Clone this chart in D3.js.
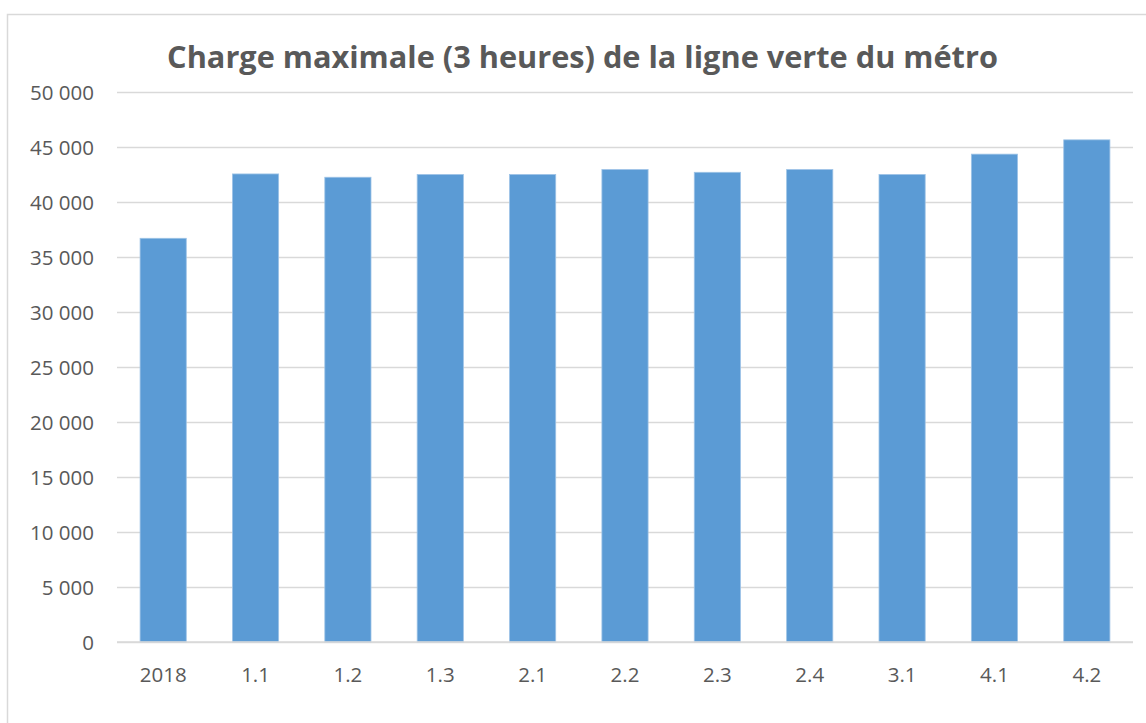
<!DOCTYPE html>
<html>
<head>
<meta charset="utf-8">
<script src="https://cdn.jsdelivr.net/npm/d3@7"></script>
<style>
  html, body { margin: 0; padding: 0; background: #fff; }
  svg { display: block; }
</style>
</head>
<body>
<svg id="chart" width="1146" height="723"></svg>
<script>
// Scenarios and peak 3-hour load values
const categories = ["2018", "1.1", "1.2", "1.3", "2.1", "2.2", "2.3", "2.4", "3.1", "4.1", "4.2"];
const values = [36700, 42550, 42250, 42500, 42500, 42950, 42700, 42950, 42500, 44350, 45650];
const yTicks = [0, 5000, 10000, 15000, 20000, 25000, 30000, 35000, 40000, 45000, 50000];
const title = "Charge maximale (3 heures) de la ligne verte du métro";

const W = 1146, H = 723;
const plot = { left: 117, right: 1133, top: 92, bottom: 642 };
const font = "'Open Sans', 'Noto Sans', sans-serif";
const textColor = "#595959";
const gridColor = "#D9D9D9";
const barColor = "#5B9BD5";
const tickFont = "20.5px";

const svg = d3.select("#chart");

// Chart area frame
svg.append("rect")
  .attr("x", 7.5).attr("y", 14.5)
  .attr("width", W + 20).attr("height", H + 20)
  .attr("fill", "#fff")
  .attr("stroke", gridColor).attr("stroke-width", 1.5);

const x = d3.scaleBand()
  .domain(categories)
  .range([plot.left, plot.right])
  .paddingInner(0.5)
  .paddingOuter(0.25);

const y = d3.scaleLinear()
  .domain([0, 50000])
  .range([plot.bottom, plot.top]);

const fmt = d => d3.format(",")(d).replace(/,/g, " ");

// Horizontal gridlines and y labels
const yAxis = d3.axisLeft(y)
  .tickValues(yTicks)
  .tickFormat(fmt)
  .tickSize(-(plot.right - plot.left))
  .tickPadding(23);

const gy = svg.append("g")
  .attr("transform", `translate(${plot.left},0)`)
  .call(yAxis);
gy.select(".domain").remove();
gy.selectAll(".tick line")
  .attr("stroke", gridColor).attr("stroke-width", 1.5);
gy.selectAll(".tick text")
  .attr("fill", textColor)
  .style("font-family", font)
  .style("font-size", tickFont)
  .attr("dy", "0.36em");

// Bars
svg.append("g")
  .selectAll("rect")
  .data(categories.map((c, i) => ({ c, v: values[i] })))
  .join("rect")
  .attr("x", d => x(d.c))
  .attr("y", d => y(d.v))
  .attr("width", x.bandwidth())
  .attr("height", d => y(0) - y(d.v))
  .attr("fill", barColor)
  .attr("stroke", "#9DC3E6")
  .attr("stroke-width", 0.8);

// Category axis
const xAxis = d3.axisBottom(x).tickSize(0).tickPadding(25);
const gx = svg.append("g")
  .attr("transform", `translate(0,${plot.bottom})`)
  .call(xAxis);
gx.select(".domain")
  .attr("stroke", gridColor).attr("stroke-width", 1.5)
  .attr("d", `M${plot.left},0H${plot.right}`);
gx.selectAll(".tick text")
  .attr("fill", textColor)
  .style("font-family", font)
  .style("font-size", tickFont);

// Title, sized to its span
const t = svg.append("text")
  .attr("x", (167 + 998) / 2)
  .attr("y", 68)
  .attr("text-anchor", "middle")
  .attr("fill", textColor)
  .style("font-family", font)
  .style("font-weight", "bold")
  .style("font-size", "30px")
  .text(title);
const tw = t.node().getComputedTextLength();
t.style("font-size", (30 * 831 / tw).toFixed(2) + "px");
</script>
</body>
</html>
